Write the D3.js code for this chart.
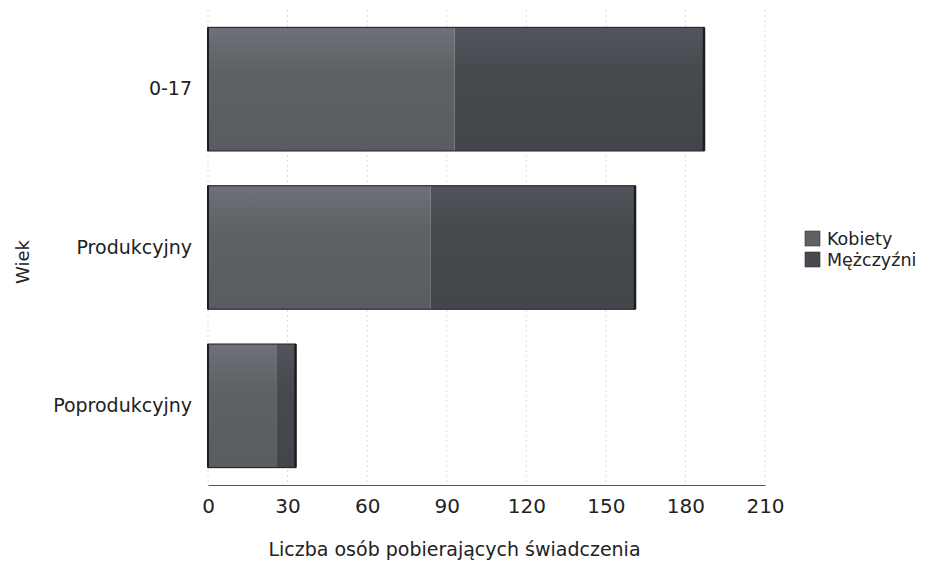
<!DOCTYPE html>
<html><head><meta charset="utf-8">
<script src="https://cdn.jsdelivr.net/npm/d3@7"></script>
<style>
body{margin:0;background:#fff;}
text{font-family:"DejaVu Sans",Verdana,sans-serif;fill:#222;}
</style></head>
<body>
<svg id="c" width="933" height="562"></svg>
<script>
const categories = ["0-17", "Produkcyjny", "Poprodukcyjny"];
const seriesNames = ["Kobiety", "Mężczyźni"];
const kobiety = [93, 84, 26];
const mezczyzni = [94, 77, 7];
const xTicks = [0, 30, 60, 90, 120, 150, 180, 210];
const colors = ["#5e6166", "#46494e"];

const svg = d3.select("#c");
const m = {l: 208, r: 168, t: 10, b: 77};
const W = 933, H = 562;
const x = d3.scaleLinear().domain([0, 210]).range([m.l, W - m.r]);
const y = d3.scaleBand().domain(categories).range([m.t, H - m.b]).paddingInner(0.22).paddingOuter(0.11);

const defs = svg.append("defs");
colors.forEach((c, i) => {
  const g = defs.append("linearGradient").attr("id", "g" + i).attr("x1", 0).attr("y1", 0).attr("x2", 0).attr("y2", 1);
  g.append("stop").attr("offset", "0%").attr("stop-color", d3.color(c).brighter(0.45));
  g.append("stop").attr("offset", "35%").attr("stop-color", c);
  g.append("stop").attr("offset", "100%").attr("stop-color", d3.color(c).darker(0.15));
});

// gridlines
svg.append("g").selectAll("line").data(xTicks).join("line")
  .attr("x1", d => x(d)).attr("x2", d => x(d))
  .attr("y1", m.t).attr("y2", H - m.b)
  .attr("stroke", "#dcdcdc").attr("stroke-dasharray", "2,3");

const stack = d3.stack().keys([0, 1])(categories.map((c, i) => [kobiety[i], mezczyzni[i]]));
const bars = svg.append("g");
stack.forEach((layer, li) => {
  bars.append("g").selectAll("rect").data(layer).join("rect")
    .attr("x", d => x(d[0])).attr("width", d => x(d[1]) - x(d[0]))
    .attr("y", (d, i) => y(categories[i])).attr("height", y.bandwidth())
    .attr("fill", "url(#g" + li + ")");
});
// outline of whole bar
bars.append("g").selectAll("rect").data(categories).join("rect")
  .attr("x", x(0)).attr("width", (d, i) => x(kobiety[i] + mezczyzni[i]) - x(0))
  .attr("y", d => y(d)).attr("height", y.bandwidth())
  .attr("fill", "none").attr("stroke", "#2a2b30").attr("stroke-width", 1.2);
bars.append("g").selectAll("line").data(categories).join("line")
  .attr("x1", (d, i) => x(kobiety[i] + mezczyzni[i])).attr("x2", (d, i) => x(kobiety[i] + mezczyzni[i]))
  .attr("y1", d => y(d)).attr("y2", d => y(d) + y.bandwidth())
  .attr("stroke", "#1c1c22").attr("stroke-width", 2.5);
bars.append("g").selectAll("line").data(categories).join("line")
  .attr("x1", x(0)).attr("x2", x(0))
  .attr("y1", d => y(d)).attr("y2", d => y(d) + y.bandwidth())
  .attr("stroke", "#1c1c22").attr("stroke-width", 2);

// x axis
const xa = svg.append("g").attr("transform", `translate(0,${H - m.b})`)
  .call(d3.axisBottom(x).tickValues(xTicks).tickSize(0).tickPadding(14));
xa.select(".domain").attr("stroke", "#555").attr("stroke-width", 1.2);
xa.selectAll("text").style("font-size", "20px").style("font-family", "DejaVu Sans").attr("fill", "#222");

// y axis labels
const ya = svg.append("g").attr("transform", `translate(${m.l - 16},0)`)
  .call(d3.axisLeft(y).tickSize(0).tickPadding(0));
ya.select(".domain").remove();
ya.selectAll("text").style("font-size", "19px").style("font-family", "DejaVu Sans").attr("fill", "#222");

svg.append("text").attr("x", (x(0) + x(210)) / 2 - 32).attr("y", 556)
  .attr("text-anchor", "middle").style("font-size", "19px").text("Liczba osób pobierających świadczenia");
svg.append("text").attr("transform", "translate(29,262) rotate(-90)")
  .attr("text-anchor", "middle").style("font-size", "18px").text("Wiek");

// legend
const lg = svg.append("g").attr("transform", "translate(805,231)");
seriesNames.forEach((s, i) => {
  lg.append("rect").attr("x", 0).attr("y", i * 21).attr("width", 15).attr("height", 15)
    .attr("fill", colors[i]).attr("stroke", "#333").attr("stroke-width", 0.6);
  lg.append("text").attr("x", 22).attr("y", i * 21 + 14).style("font-size", "17.5px").text(s);
});
</script>
</body></html>
